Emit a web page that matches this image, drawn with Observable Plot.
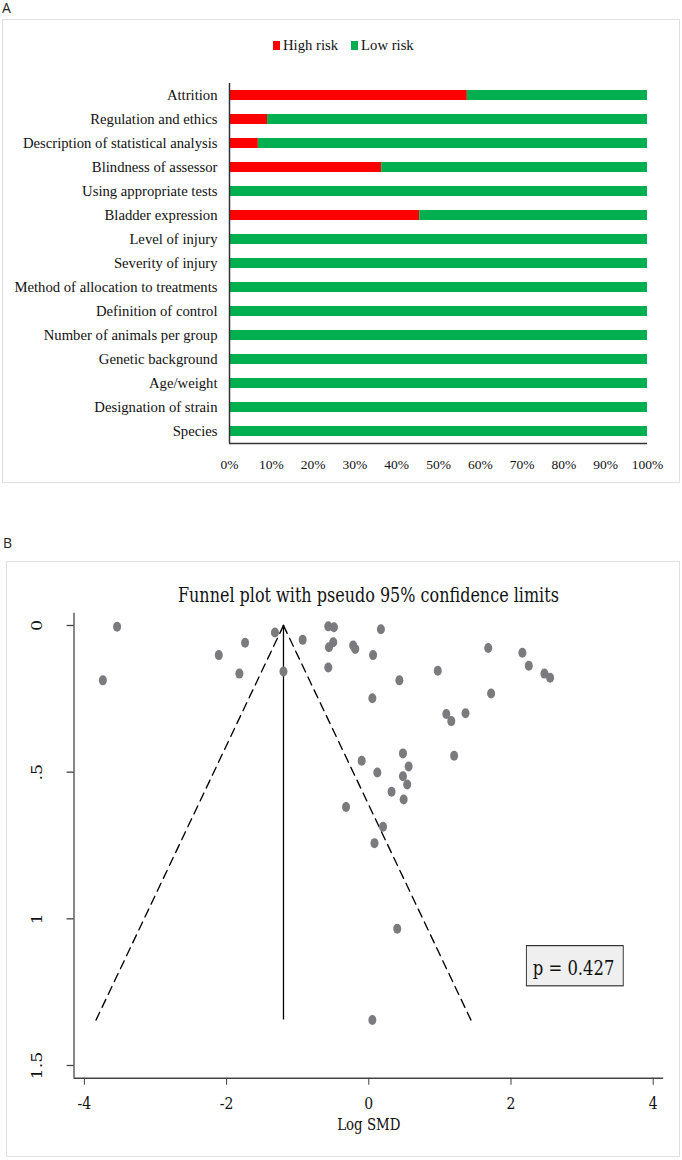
<!DOCTYPE html>
<html><head><meta charset="utf-8">
<script src="https://cdn.jsdelivr.net/npm/d3@7"></script>
<script src="https://cdn.jsdelivr.net/npm/@observablehq/plot@0.6"></script>
<style>
html,body{margin:0;padding:0;background:#fff;}
body{width:682px;height:1160px;position:relative;overflow:hidden;}
.panel-letter{position:absolute;font:14px "Open Sans",sans-serif;color:#222;line-height:1;}
.frame{position:absolute;border:1.5px solid #e0e0e0;box-sizing:border-box;}
#legendA{position:absolute;top:38px;left:273px;font:14.7px "Liberation Serif",serif;line-height:1;white-space:nowrap;color:#111}
.sw{display:inline-block;width:7px;height:9px;margin-right:3px}
#chartA{position:absolute;left:0;top:0}
#wrapB{position:absolute;left:0;top:561px;width:852px;height:596px;transform:scaleX(0.8);transform-origin:0 0}
#titleB{position:absolute;left:92px;width:737px;top:21px;text-align:center;font:20px "DejaVu Serif",serif;line-height:26px;color:#111}
#chartB{position:absolute;left:0;top:0}
</style></head><body>
<div class="panel-letter" style="left:2px;top:1px">A</div>
<div class="frame" style="left:2px;top:19px;width:678px;height:464px"></div>
<div id="legendA"></div>
<div id="chartA"></div>
<div class="panel-letter" style="left:3px;top:536px">B</div>
<div class="frame" style="left:6px;top:561px;width:674px;height:596px"></div>
<div id="wrapB"><div id="titleB"></div><div id="chartB"></div></div>
<script>
// ---------- Panel A data ----------
const categories = ["Attrition","Regulation and ethics","Description of statistical analysis","Blindness of assessor","Using appropriate tests","Bladder expression","Level of injury","Severity of injury","Method of allocation to treatments","Definition of control","Number of animals per group","Genetic background","Age/weight","Designation of strain","Species"];
const highRisk = [56.9, 9.1, 6.9, 36.4, 0, 45.5, 0, 0, 0, 0, 0, 0, 0, 0, 0];
const lowRisk  = [43.1, 90.9, 93.1, 63.6, 100, 54.5, 100, 100, 100, 100, 100, 100, 100, 100, 100];
const riskLevels = ["High risk", "Low risk"];
const riskColors = ["#ff0000", "#00b050"];
const xTicksA = [0,10,20,30,40,50,60,70,80,90,100];

// ---------- Panel B data ----------
const funnelTitle = "Funnel plot with pseudo 95% confidence limits";
const funnelLogSMD = [-3.54,-3.74,-2.11,-1.74,-1.82,-1.32,-1.20,-0.93,-0.57,-0.49,-0.56,-0.50,-0.57,-0.22,-0.19,0.06,0.05,-0.10,0.12,-0.32,0.17,0.43,0.97,1.68,2.16,2.25,2.47,2.55,1.72,1.09,1.16,1.36,1.20,0.48,0.56,0.48,0.54,0.32,0.49,0.20,0.08,0.40,0.05];
const funnelSE = [0.004,0.187,0.101,0.059,0.164,0.024,0.157,0.049,0.003,0.006,0.074,0.057,0.143,0.068,0.080,0.101,0.248,0.461,0.501,0.619,0.013,0.187,0.154,0.077,0.093,0.137,0.164,0.178,0.232,0.302,0.326,0.299,0.444,0.436,0.481,0.514,0.542,0.567,0.593,0.686,0.742,1.034,1.345];
const funnelCenter = -1.2;
const funnelSeMax = 1.345;
const zCrit = 1.96;
const xTicksB = [-4,-2,0,2,4];
const yTicksB = [0, 0.5, 1, 1.5];
const yTickLabelsB = ["0", ".5", "1", "1.5"];
const xDomainB = [-4.146, 4.146];
const yDomainB = [-0.0419, 1.5433];
const xLabelB = "Log SMD";
const pNote = {text: "p = 0.427", x: 2.88, se: 1.17, x1: 2.222, x2: 3.584, se1: 1.093, se2: 1.230};

// ---------- Panel A ----------
const legend = document.getElementById("legendA");
riskLevels.forEach((r, i) => {
  const sw = document.createElement("span");
  sw.className = "sw";
  sw.style.background = riskColors[i];
  if (i > 0) sw.style.marginLeft = "13px";
  legend.appendChild(sw);
  legend.appendChild(document.createTextNode(r));
});

const rowsA = [];
categories.forEach((c, i) => {
  rowsA.push({category: c, risk: riskLevels[0], value: highRisk[i]});
  rowsA.push({category: c, risk: riskLevels[1], value: lowRisk[i]});
});

const chartA = Plot.plot({
  width: 682, height: 490,
  marginTop: 83, marginBottom: 47, marginLeft: 229, marginRight: 35,
  style: {fontFamily: "'Liberation Serif', serif", color: "#111", background: "transparent", overflow: "visible"},
  x: {domain: [0, 100], label: null},
  y: {domain: categories, paddingInner: 0.6, paddingOuter: 0.3, label: null},
  color: {domain: riskLevels, range: riskColors},
  marks: [
    Plot.barX(rowsA, {x: "value", y: "category", fill: "risk"}),
    Plot.ruleX([0], {stroke: "#333", strokeWidth: 1.5}),
    Plot.ruleY([categories[categories.length - 1]], {dy: 12, stroke: "#333", strokeWidth: 1.5}),
    Plot.axisY({tickSize: 0, tickPadding: 12, fontSize: 14.7, label: null}),
    Plot.axisX({ticks: xTicksA, tickFormat: d => d + "%", tickSize: 0, tickPadding: 16, fontSize: 13.5, label: null})
  ]
});
document.getElementById("chartA").appendChild(chartA);

// ---------- Panel B ----------
document.getElementById("titleB").textContent = funnelTitle;
const pts = funnelLogSMD.map((x, i) => ({x, se: funnelSE[i]}));
const limits = [
  {side: "L", x: funnelCenter, se: 0}, {side: "L", x: funnelCenter - zCrit * funnelSeMax, se: funnelSeMax},
  {side: "R", x: funnelCenter, se: 0}, {side: "R", x: funnelCenter + zCrit * funnelSeMax, se: funnelSeMax}
];
const yLab = yTicksB.map((v, i) => ({v, t: yTickLabelsB[i]}));

const chartB = Plot.plot({
  width: 852, height: 596,
  marginTop: 51.7, marginBottom: 79.3, marginLeft: 92, marginRight: 23,
  style: {fontFamily: "'DejaVu Serif', serif", color: "#111", background: "transparent", overflow: "visible"},
  x: {domain: xDomainB, label: null},
  y: {domain: yDomainB, reverse: true, label: null},
  marks: [
    Plot.ruleX([xDomainB[0]], {stroke: "#444", strokeWidth: 1.6}),
    Plot.ruleY([yDomainB[1]], {stroke: "#444", strokeWidth: 1.6}),
    Plot.axisX({ticks: xTicksB, tickFormat: d => String(d), tickSize: 7, tickPadding: 11, fontSize: 17.5, stroke: "#444", strokeWidth: 1.3, label: null}),
    Plot.axisY({ticks: yTicksB, tickFormat: () => "", tickSize: 8.75, stroke: "#444", strokeWidth: 1.3, label: null}),
    Plot.text(yLab, {y: "v", text: "t", frameAnchor: "left", dx: -45, rotate: -90, textAnchor: "middle", lineAnchor: "middle", fontSize: 17.5}),
    Plot.line(limits, {x: "x", y: "se", z: "side", stroke: "#000", strokeWidth: 1.6, strokeDasharray: "9,6"}),
    Plot.ruleX([funnelCenter], {y1: 0, y2: funnelSeMax, stroke: "#000", strokeWidth: 1.6}),
    Plot.dot(pts, {x: "x", y: "se", r: 5, fill: "#7a7a7f", stroke: null}),
    Plot.rect([pNote], {x1: "x1", x2: "x2", y1: "se1", y2: "se2", fill: "#efefef", stroke: "#333", strokeWidth: 1.2}),
    Plot.text([pNote], {x: "x", y: "se", text: "text", fontSize: 20.5, lineAnchor: "middle", fill: "#111"}),
    Plot.text([xLabelB], {text: d => d, frameAnchor: "bottom", dy: 46.3, fontSize: 16.7, lineAnchor: "middle", fill: "#111"})
  ]
});
document.getElementById("chartB").appendChild(chartB);
</script>
</body></html>
